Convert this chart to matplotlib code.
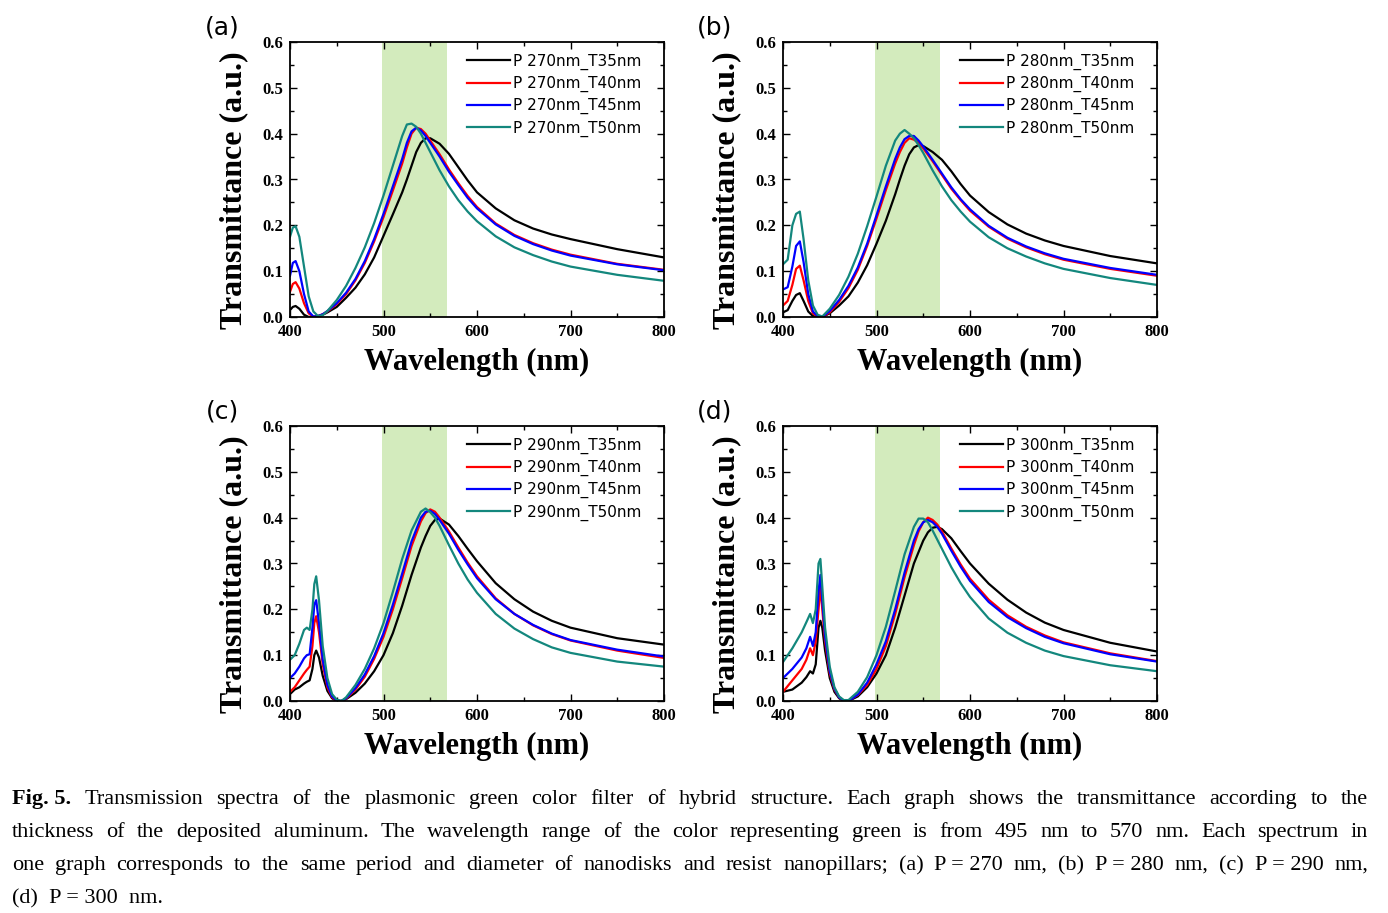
import matplotlib
matplotlib.use('Agg')
import matplotlib.pyplot as plt
from matplotlib.ticker import MultipleLocator

# ---- data ----
wl_a = [400, 403, 406, 410, 415, 420, 425, 430, 435, 440, 450, 460, 470, 480, 490, 500, 510, 520, 525, 530,
        535, 540, 545, 550, 560, 570, 580, 590, 600, 620, 640, 660, 680, 700, 750, 800]
a_t35 = [0.015, 0.022, 0.024, 0.018, 0.005, 0.0, 0.0, 0.002, 0.005, 0.01, 0.022, 0.042, 0.064, 0.093, 0.13, 0.177,
         0.224, 0.272, 0.3, 0.33, 0.36, 0.38, 0.39, 0.39, 0.378, 0.356, 0.327, 0.298, 0.272, 0.237, 0.211, 0.193,
         0.18, 0.17, 0.148, 0.13]
a_t40 = [0.055, 0.072, 0.076, 0.062, 0.03, 0.008, 0.0, 0.002, 0.006, 0.012, 0.028, 0.05, 0.08, 0.118, 0.165, 0.218,
         0.276, 0.335, 0.37, 0.4, 0.413, 0.41, 0.4, 0.385, 0.355, 0.322, 0.292, 0.264, 0.24, 0.204, 0.179, 0.161,
         0.147, 0.136, 0.116, 0.103]
a_t45 = [0.09, 0.118, 0.122, 0.1, 0.05, 0.012, 0.001, 0.002, 0.006, 0.013, 0.03, 0.053, 0.083, 0.122, 0.17, 0.225,
         0.285, 0.345, 0.38, 0.405, 0.413, 0.407, 0.395, 0.38, 0.35, 0.317, 0.288, 0.26, 0.237, 0.202, 0.177, 0.159,
         0.145, 0.134, 0.115, 0.102]
a_t50 = [0.175, 0.195, 0.198, 0.175, 0.11, 0.045, 0.012, 0.002, 0.004, 0.013, 0.037, 0.068, 0.107, 0.152, 0.205,
         0.265, 0.33, 0.395, 0.42, 0.422, 0.415, 0.4, 0.38, 0.36, 0.32, 0.285, 0.255, 0.23, 0.209, 0.176, 0.152,
         0.135, 0.121, 0.11, 0.092, 0.079]

wl_b = [400, 405, 410, 414, 418, 422, 427, 432, 437, 442, 450, 460, 470, 480, 490, 500, 510, 520, 525, 530,
        535, 540, 545, 550, 560, 570, 580, 590, 600, 620, 640, 660, 680, 700, 750, 800]
b_t35 = [0.01, 0.015, 0.035, 0.048, 0.052, 0.035, 0.012, 0.002, 0.0, 0.0, 0.008, 0.025, 0.045, 0.075, 0.113, 0.16,
         0.21, 0.268, 0.3, 0.33, 0.355, 0.37, 0.375, 0.373, 0.36, 0.343, 0.318, 0.29, 0.265, 0.229, 0.202, 0.182,
         0.167, 0.155, 0.133, 0.117]
b_t40 = [0.025, 0.035, 0.07, 0.105, 0.112, 0.08, 0.035, 0.008, 0.001, 0.0, 0.01, 0.033, 0.063, 0.103, 0.155, 0.215,
         0.277, 0.335, 0.36, 0.38, 0.39, 0.387, 0.38, 0.368, 0.34, 0.31, 0.28, 0.255, 0.232, 0.197, 0.171, 0.152,
         0.137, 0.125, 0.105, 0.09]
b_t45 = [0.06, 0.065, 0.11, 0.155, 0.165, 0.12, 0.05, 0.012, 0.002, 0.0, 0.013, 0.037, 0.068, 0.108, 0.16, 0.222,
         0.285, 0.345, 0.37, 0.388, 0.395, 0.395, 0.385, 0.372, 0.343, 0.313, 0.283, 0.257, 0.235, 0.199, 0.173,
         0.154, 0.139, 0.127, 0.107, 0.092]
b_t50 = [0.115, 0.125, 0.2, 0.225, 0.23, 0.17, 0.08, 0.025, 0.005, 0.001, 0.018, 0.048, 0.088, 0.138, 0.198, 0.263,
         0.33, 0.385, 0.4, 0.408, 0.4, 0.39, 0.375, 0.358, 0.32, 0.285, 0.255, 0.23, 0.208, 0.174, 0.15, 0.132,
         0.117, 0.105, 0.085, 0.07]

wl_c = [400, 405, 410, 415, 418, 421, 424, 426, 428, 431, 435, 440, 445, 450, 455, 460, 470, 480, 490, 500,
        510, 520, 530, 540, 545, 550, 555, 560, 570, 580, 590, 600, 620, 640, 660, 680, 700, 750, 800]
c_t35 = [0.015, 0.025, 0.03, 0.038, 0.042, 0.045, 0.07, 0.1, 0.11, 0.095, 0.055, 0.022, 0.006, 0.0, 0.0, 0.004,
         0.018, 0.038, 0.065, 0.1, 0.148, 0.208, 0.275, 0.335, 0.36, 0.382, 0.395, 0.398, 0.385, 0.36, 0.332, 0.305,
         0.257, 0.222, 0.195, 0.175, 0.16, 0.137, 0.123]
c_t40 = [0.02, 0.03, 0.045, 0.06, 0.068, 0.075, 0.12, 0.17, 0.185, 0.15, 0.08, 0.03, 0.008, 0.0, 0.0, 0.005,
         0.025, 0.053, 0.092, 0.14, 0.2, 0.268, 0.338, 0.392, 0.41, 0.418, 0.413, 0.4, 0.37, 0.335, 0.302, 0.272,
         0.224, 0.19, 0.165, 0.146, 0.132, 0.11, 0.094]
c_t45 = [0.05, 0.06, 0.075, 0.093, 0.1, 0.102, 0.16, 0.21, 0.22, 0.17, 0.09, 0.035, 0.01, 0.001, 0.0, 0.006,
         0.028, 0.058, 0.098, 0.148, 0.21, 0.278, 0.348, 0.4, 0.413, 0.415, 0.408, 0.395, 0.365, 0.33, 0.298, 0.268,
         0.222, 0.19, 0.166, 0.147, 0.133, 0.112, 0.097]
c_t50 = [0.09, 0.1, 0.125, 0.155, 0.16, 0.155, 0.2, 0.255, 0.272, 0.22, 0.12, 0.05, 0.015, 0.003, 0.0, 0.008,
         0.035, 0.07, 0.115, 0.17, 0.238, 0.31, 0.372, 0.413, 0.42, 0.412, 0.4, 0.382, 0.34, 0.3, 0.265, 0.236,
         0.19, 0.158, 0.135, 0.117, 0.105, 0.086, 0.075]

wl_d = [400, 410, 420, 425, 429, 432, 435, 438, 440, 442, 445, 450, 455, 460, 465, 470, 480, 490, 500, 510,
        520, 530, 540, 545, 550, 555, 560, 565, 570, 580, 590, 600, 620, 640, 660, 680, 700, 750, 800]
d_t35 = [0.02, 0.025, 0.04, 0.052, 0.065, 0.06, 0.08, 0.16, 0.175, 0.16, 0.11, 0.05, 0.02, 0.006, 0.0, 0.0, 0.01,
         0.03, 0.06, 0.1, 0.16, 0.23, 0.3, 0.325, 0.35, 0.368, 0.378, 0.38, 0.375, 0.355, 0.327, 0.3, 0.256, 0.221,
         0.193, 0.171, 0.155, 0.127, 0.108]
d_t40 = [0.02, 0.045, 0.07, 0.09, 0.115, 0.1, 0.13, 0.2, 0.25, 0.2, 0.13, 0.06, 0.025, 0.008, 0.0, 0.001, 0.013,
         0.035, 0.07, 0.12, 0.19, 0.27, 0.34, 0.37, 0.39, 0.4, 0.395, 0.385, 0.37, 0.333, 0.298, 0.267, 0.221,
         0.187, 0.162, 0.143, 0.128, 0.104, 0.087]
d_t45 = [0.05, 0.07, 0.095, 0.115, 0.14, 0.12, 0.15, 0.24, 0.275, 0.22, 0.14, 0.065, 0.027, 0.008, 0.001, 0.0,
         0.014, 0.04, 0.08, 0.13, 0.2, 0.28, 0.35, 0.375, 0.39, 0.395, 0.39, 0.38, 0.365, 0.328, 0.293, 0.262,
         0.216, 0.183, 0.159, 0.14, 0.126, 0.102, 0.086]
d_t50 = [0.085, 0.115, 0.15, 0.172, 0.19, 0.17, 0.2, 0.3, 0.31, 0.25, 0.16, 0.075, 0.03, 0.01, 0.002, 0.002,
         0.02, 0.052, 0.1, 0.162, 0.24, 0.32, 0.38, 0.398, 0.398, 0.39, 0.372, 0.352, 0.332, 0.292, 0.257, 0.227,
         0.18, 0.149, 0.127, 0.11, 0.098, 0.078, 0.065]

periods = ['270', '280', '290', '300']
thicknesses = ['35', '40', '45', '50']
panel_tags = ['(a)', '(b)', '(c)', '(d)']
green_band = (498, 568)

colors = ['#000000', '#ff0000', '#0000ff', '#13877d']

W, H = 1388, 913
fig = plt.figure(figsize=(W / 100, H / 100), dpi=100)

serif = 'Liberation Serif'

panels = [
    (wl_a, [a_t35, a_t40, a_t45, a_t50]),
    (wl_b, [b_t35, b_t40, b_t45, b_t50]),
    (wl_c, [c_t35, c_t40, c_t45, c_t50]),
    (wl_d, [d_t35, d_t40, d_t45, d_t50]),
]
# axes boxes in pixels: left, top
boxes = [(290, 42), (783, 42), (290, 426), (783, 426)]
ax_w, ax_h = 374, 275

for i, ((wl, series), (left, top)) in enumerate(zip(panels, boxes)):
    ax = fig.add_axes([left / W, 1 - (top + ax_h) / H, ax_w / W, ax_h / H])
    ax.axvspan(green_band[0], green_band[1], color='#d3ebbd', lw=0, zorder=0)
    for t, y, c in zip(thicknesses, series, colors):
        ax.plot(wl, y, color=c, lw=1.6, label=f'P {periods[i]}nm_T{t}nm')
    ax.set_xlim(400, 800)
    ax.set_ylim(0, 0.6)
    ax.xaxis.set_major_locator(MultipleLocator(100))
    ax.xaxis.set_minor_locator(MultipleLocator(50))
    ax.yaxis.set_major_locator(MultipleLocator(0.1))
    ax.yaxis.set_minor_locator(MultipleLocator(0.05))
    ax.set_yticklabels([f'{v:.1f}' for v in ax.get_yticks()])
    ax.tick_params(which='both', direction='in', top=True, right=True, width=1)
    ax.tick_params(which='major', length=5, pad=5)
    ax.tick_params(which='minor', length=3)
    for lab in ax.get_xticklabels() + ax.get_yticklabels():
        lab.set_fontfamily(serif)
        lab.set_fontweight('bold')
        lab.set_fontsize(12)
    for sp in ax.spines.values():
        sp.set_linewidth(1.3)
    ax.legend(loc='upper left', bbox_to_anchor=(0.473, 0.958), frameon=False, borderpad=0,
              borderaxespad=0, handlelength=2.8, handletextpad=0.2, labelspacing=0.4,
              prop={'family': 'DejaVu Sans', 'size': 11})

    cx = left + ax_w / 2
    fig.text((left - 68) / W, 1 - (top - 15) / H, panel_tags[i], fontsize=18, family='DejaVu Sans',
             ha='center', va='center')
    fig.text((left - 56) / W, 1 - (top + 148) / H, 'Transmittance (a.u.)', rotation=90,
             fontsize=23, family=serif, weight='bold', ha='center', va='center')
    fig.text(cx / W, 1 - (top + 320) / H, 'Wavelength (nm)', fontsize=22, family=serif, weight='bold',
             ha='center', va='center')

# ---- caption, justified like the journal text ('~' = space that does not stretch) ----
cap_lines = [
    'Fig.~5. Transmission spectra of the plasmonic green color filter of hybrid structure. Each graph shows the transmittance according to the',
    'thickness of the deposited aluminum. The wavelength range of the color representing green is from 495 nm to 570 nm. Each spectrum in',
    'one graph corresponds to the same period and diameter of nanodisks and resist nanopillars; (a) P~=~270 nm, (b) P~=~280 nm, (c) P~=~290 nm,',
    '(d)  P = 300  nm.',
]
cap_base = [804, 837, 870, 903]
cap_size = 16
renderer = fig.canvas.get_renderer()
x0, x1 = 12, 1368
for n, (line, yb) in enumerate(zip(cap_lines, cap_base)):
    if n == 3:
        fig.text(x0 / W, 1 - yb / H, line, fontsize=cap_size, family=serif, va='baseline', ha='left')
        continue
    words = line.split(' ')
    texts = []
    for k, w in enumerate(words):
        bold = (n == 0 and k == 0)
        texts.append(fig.text(0, 1 - yb / H, w.replace('~', ' '), fontsize=cap_size, family=serif,
                              weight='bold' if bold else 'normal', va='baseline', ha='left'))
    widths = [t.get_window_extent(renderer).width for t in texts]
    gap = (x1 - x0 - sum(widths)) / (len(words) - 1)
    x = x0
    for t, w in zip(texts, widths):
        t.set_x(x / W)
        x += w + gap

fig.savefig('out.png', dpi=100)
